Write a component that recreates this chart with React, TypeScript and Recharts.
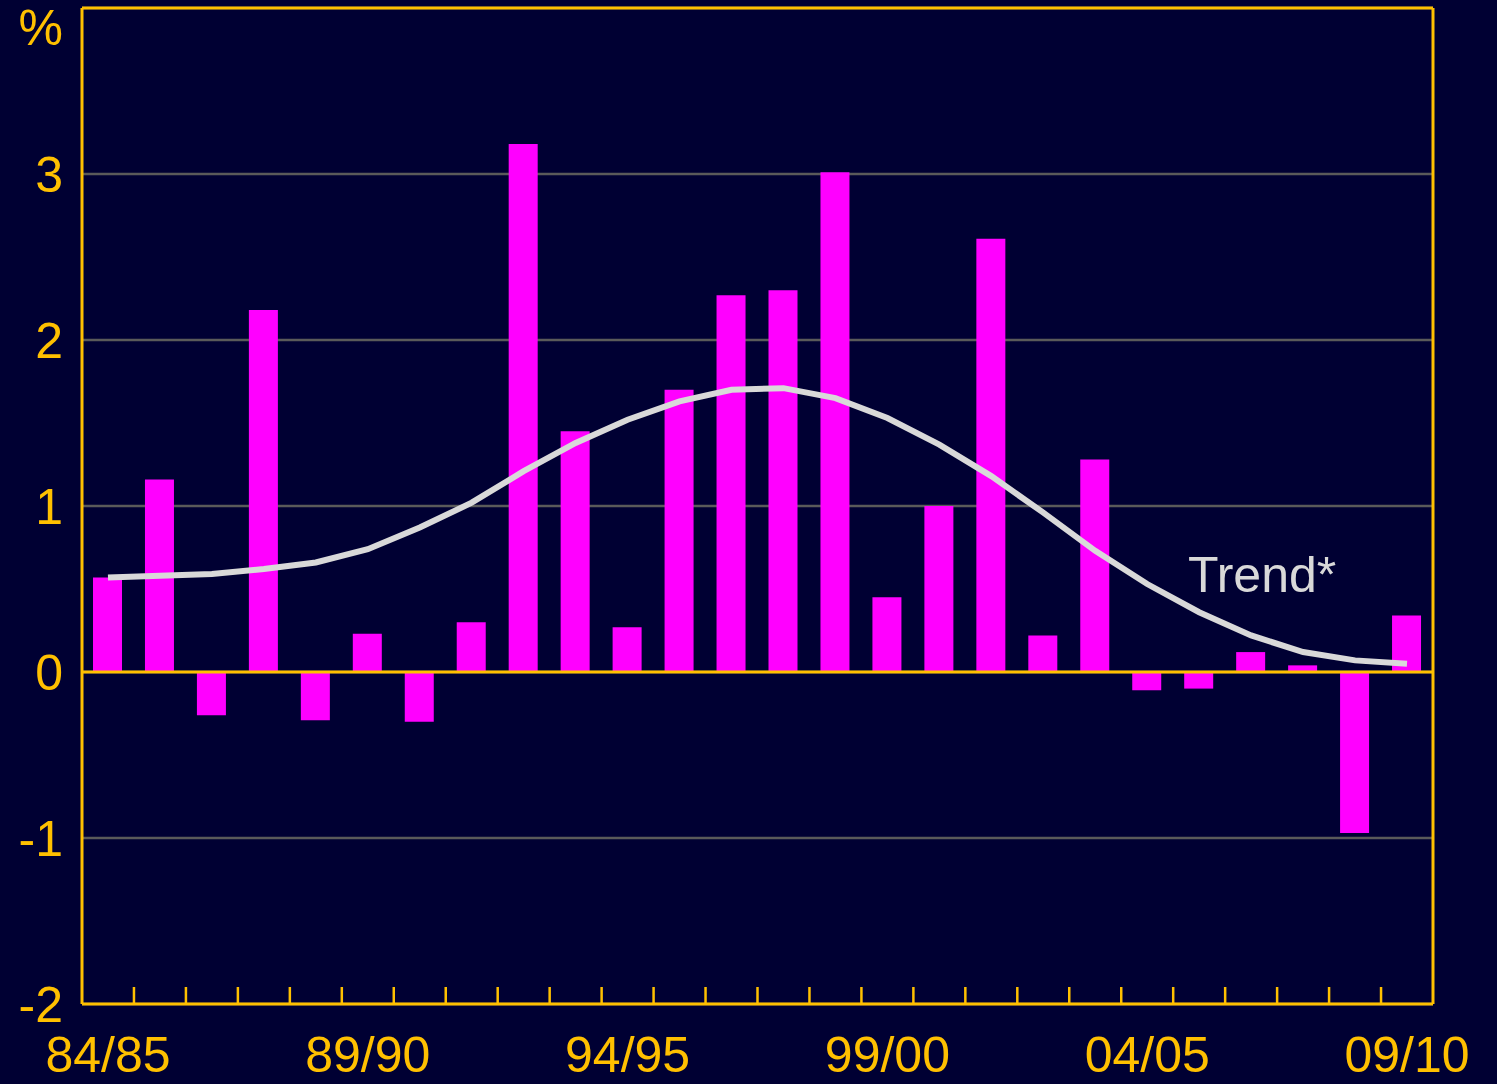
import React from "react";
import {
  Bar,
  CartesianGrid,
  ComposedChart,
  Line,
  ReferenceLine,
  XAxis,
  YAxis,
} from "recharts";

const years = [
  "84/85", "85/86", "86/87", "87/88", "88/89", "89/90", "90/91", "91/92",
  "92/93", "93/94", "94/95", "95/96", "96/97", "97/98", "98/99", "99/00",
  "00/01", "01/02", "02/03", "03/04", "04/05", "05/06", "06/07", "07/08",
  "08/09", "09/10",
];

const annualChange = [
  0.57, 1.16, -0.26, 2.18, -0.29, 0.23, -0.3, 0.3, 3.18, 1.45, 0.27, 1.7,
  2.27, 2.3, 3.01, 0.45, 1.0, 2.61, 0.22, 1.28, -0.11, -0.1, 0.12, 0.04,
  -0.97, 0.34,
];

const trendValues = [
  0.57, 0.58, 0.59, 0.62, 0.66, 0.74, 0.87, 1.02, 1.21, 1.38, 1.52, 1.63,
  1.7, 1.71, 1.65, 1.53, 1.37, 1.18, 0.96, 0.73, 0.53, 0.36, 0.22, 0.12,
  0.07, 0.05,
];

const yTicks = [-2, -1, 0, 1, 2, 3, 4];

const data = years.map((year, i) => ({
  year,
  change: annualChange[i],
  trend: trendValues[i],
}));

const WIDTH = 1497;
const HEIGHT = 1084;
const LEFT_AXIS = 82;
const RIGHT_AXIS = 64;
const BAND = (WIDTH - LEFT_AXIS - RIGHT_AXIS) / years.length;

const NAVY = "#000033";
const GOLD = "#FFC000";
const MAGENTA = "#FF00FF";
const GREY = "#D9D9D9";
const FONT = "'Liberation Sans', Arial, sans-serif";
const FONT_SIZE = 50;

const XTick = (props: any) => {
  const { x, y, payload, index } = props;
  const i = payload?.index ?? index;
  return (
    <g>
      {i < years.length - 1 && (
        <line
          x1={x + BAND / 2}
          x2={x + BAND / 2}
          y1={y}
          y2={y - 17}
          stroke={GOLD}
          strokeWidth={2.5}
        />
      )}
      {i % 5 === 0 && (
        <text
          x={x}
          y={y + 68}
          textAnchor="middle"
          fill={GOLD}
          fontSize={FONT_SIZE}
          fontFamily={FONT}
        >
          {payload.value}
        </text>
      )}
    </g>
  );
};

const makeYTick = (side: "left" | "right") => (props: any) => {
  const { x, y, payload } = props;
  const top = payload.value === 4;
  return (
    <text
      x={x}
      y={top ? y + 37 : y + 18}
      textAnchor={side === "left" ? "end" : "start"}
      fill={GOLD}
      fontSize={FONT_SIZE}
      fontFamily={FONT}
    >
      {top ? "%" : String(payload.value)}
    </text>
  );
};

const App: React.FC = () => {
  return (
    <div style={{ width: WIDTH, height: HEIGHT, background: NAVY }}>
      <style>{`body{margin:0;background:${NAVY};}`}</style>
      <ComposedChart
        width={WIDTH}
        height={HEIGHT}
        data={data}
        margin={{ top: 8, right: 0, left: 0, bottom: 0 }}
        barCategoryGap={0}
      >
        <CartesianGrid
          vertical={false}
          stroke="#5a5a5a"
          strokeWidth={2.5}
        />
        <XAxis
          dataKey="year"
          height={80}
          interval={0}
          tickSize={0}
          tickMargin={0}
          tickLine={false}
          axisLine={{ stroke: GOLD, strokeWidth: 3 }}
          tick={<XTick />}
        />
        <YAxis
          width={LEFT_AXIS}
          domain={[-2, 4]}
          ticks={yTicks}
          interval={0}
          tickSize={0}
          tickMargin={19}
          tickLine={false}
          axisLine={{ stroke: GOLD, strokeWidth: 3 }}
          tick={makeYTick("left")}
        />
        <YAxis
          yAxisId="right"
          orientation="right"
          width={RIGHT_AXIS}
          domain={[-2, 4]}
          ticks={yTicks}
          interval={0}
          tickSize={0}
          tickMargin={18}
          tickLine={false}
          axisLine={{ stroke: GOLD, strokeWidth: 3 }}
          tick={makeYTick("right")}
        />
        <Bar
          dataKey="change"
          fill={MAGENTA}
          barSize={29}
          isAnimationActive={false}
        />
        <ReferenceLine y={0} stroke={GOLD} strokeWidth={3} />
        <ReferenceLine y={4} stroke={GOLD} strokeWidth={3} />
        <Line
          type="linear"
          dataKey="trend"
          stroke={GREY}
          strokeWidth={6}
          dot={false}
          activeDot={false}
          isAnimationActive={false}
        />
        <text
          x={1188}
          y={592}
          fill={GREY}
          fontSize={FONT_SIZE}
          fontFamily={FONT}
        >
          Trend*
        </text>
      </ComposedChart>
    </div>
  );
};

export default App;
